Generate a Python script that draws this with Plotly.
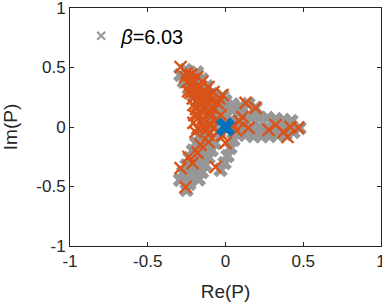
import plotly.graph_objects as go

# ---- data ----
tick_vals = [-1, -0.5, 0, 0.5, 1]
tick_text = ["-1", "-0.5", "0", "0.5", "1"]

legend_label = "<i>β</i>=6.03"

# gray series (dense band of points forming three arms)
gray_x = [
    # upper-left arm
    0.000, -0.032, -0.064, -0.096, -0.129, -0.161, -0.193, -0.225, -0.257,
    0.042, 0.010, -0.022, -0.054, -0.087, -0.119, -0.151, -0.183,
    -0.042, -0.075, -0.107, -0.139, -0.171, -0.203, -0.236, -0.268, -0.290,
    -0.019, 0.000, 0.045,
    # right arm
    0.064, 0.116, 0.167, 0.219, 0.270, 0.322, 0.373, 0.424, 0.476,
    0.116, 0.167, 0.219, 0.270, 0.322, 0.373, 0.424,
    0.077, 0.129, 0.180, 0.232, 0.283, 0.334, 0.386, 0.437,
    0.096, 0.148, 0.193, 0.084, 0.045,
    # lower-left arm, left finger
    -0.109, -0.130, -0.150, -0.172, -0.192, -0.213, -0.233, -0.251,
    -0.168, -0.189, -0.210, -0.231, -0.251, -0.272, -0.293,
    -0.068, -0.089, -0.109, -0.131, -0.151, -0.172,
    # lower-left arm, right finger
    0.051, 0.032, 0.013, -0.006, -0.032,
]
gray_y = [
    0.000, 0.059, 0.118, 0.176, 0.239, 0.303, 0.361, 0.420, 0.479,
    0.039, 0.097, 0.155, 0.214, 0.277, 0.341, 0.400, 0.459,
    -0.039, 0.020, 0.079, 0.138, 0.202, 0.264, 0.323, 0.382, 0.437,
    0.260, 0.220, 0.190,
    0.017, 0.008, 0.000, 0.000, 0.000, 0.000, 0.000, 0.000, -0.008,
    0.084, 0.076, 0.076, 0.076, 0.067, 0.059, 0.050,
    -0.059, -0.067, -0.076, -0.076, -0.076, -0.067, -0.059, -0.042,
    0.176, 0.193, 0.160, 0.118, 0.143,
    -0.109, -0.171, -0.233, -0.294, -0.355, -0.417, -0.479, -0.529,
    -0.076, -0.137, -0.199, -0.261, -0.322, -0.383, -0.445,
    -0.133, -0.194, -0.256, -0.318, -0.379, -0.440,
    -0.109, -0.176, -0.244, -0.303, -0.361,
]

orange_x = [
    -0.289, -0.244, -0.206, -0.161, -0.109, -0.225, -0.129, -0.077, -0.019,
    -0.206, -0.141, -0.084, -0.180, -0.096, -0.206, -0.141, -0.193, -0.109,
    -0.051, 0.000, 0.051, 0.129, 0.193, 0.109, 0.148, 0.277, 0.322, 0.373,
    0.418, 0.469, 0.399, -0.238, -0.180, -0.212, -0.289, -0.064, -0.257,
    -0.109, -0.161,
    -0.20, -0.17, -0.12, -0.15, -0.10, -0.05, -0.06, -0.16, -0.22, -0.26,
    -0.18, -0.13, -0.03, -0.12, 0.07, 0.09, -0.02,
    -0.25, -0.21, -0.23, -0.19, -0.15, -0.21, -0.17, -0.13, -0.09, -0.11,
    -0.16, -0.19, -0.14, -0.10, -0.18, -0.07, -0.04, -0.24, -0.20, -0.08,
]
orange_y = [
    0.504, 0.378, 0.370, 0.336, 0.336, 0.286, 0.269, 0.294, 0.269,
    0.185, 0.168, 0.160, 0.101, 0.084, 0.034, 0.000, -0.042, -0.067,
    -0.042, -0.134, 0.017, 0.202, 0.160, 0.084, -0.008, -0.025, 0.017, -0.042,
    0.000, -0.008, -0.084, -0.252, -0.218, -0.303, -0.345, -0.336, -0.504,
    -0.126, -0.151,
    0.30, 0.25, 0.22, 0.13, 0.12, 0.20, 0.06, 0.05, 0.44, 0.42,
    0.42, 0.30, 0.10, -0.02, -0.03, 0.05, -0.07,
    0.45, 0.40, 0.35, 0.33, 0.38, 0.24, 0.20, 0.18, 0.22, 0.27,
    0.28, 0.15, 0.07, 0.03, -0.01, 0.15, 0.24, 0.30, 0.10, -0.01,
]

blue_x = [0.0]
blue_y = [0.0]

GRAY = "#979797"
ORANGE = "#D95319"
BLUE = "#0072BD"
AXC = "#262626"
FONT = "Liberation Sans, Arial, sans-serif"

fig = go.Figure()
fig.add_trace(go.Scatter(
    x=gray_x, y=gray_y, mode="markers", showlegend=False,
    marker=dict(symbol="x", size=13, color=GRAY, line=dict(width=0)),
))
# legend entry for the gray series (small x as in the reference)
fig.add_trace(go.Scatter(
    x=[None], y=[None], mode="markers", name=legend_label,
    marker=dict(symbol="x-thin", size=8, line=dict(width=2, color=GRAY)),
))
fig.add_trace(go.Scatter(
    x=orange_x, y=orange_y, mode="markers", showlegend=False,
    marker=dict(symbol="x-thin", size=12, color=ORANGE, line=dict(width=2.4, color=ORANGE)),
))
fig.add_trace(go.Scatter(
    x=blue_x, y=blue_y, mode="markers", showlegend=False,
    marker=dict(symbol="x", size=17, color=BLUE, line=dict(width=0)),
))

axis_common = dict(
    range=[-1, 1], tickvals=tick_vals, ticktext=tick_text,
    showgrid=False, zeroline=False, showline=True, linecolor=AXC, linewidth=1,
    mirror="ticks", ticks="inside", ticklen=4, tickcolor=AXC, tickwidth=1,
    tickfont=dict(family=FONT, size=17, color=AXC),
    ticklabeloverflow="allow", automargin=False,
    fixedrange=True,
)
fig.update_xaxes(**axis_common, title=dict(text="Re(P)", standoff=14,
                 font=dict(family=FONT, size=19, color=AXC)))
fig.update_yaxes(**axis_common, title=dict(text="Im(P)", standoff=14,
                 font=dict(family=FONT, size=19, color=AXC)))

fig.update_layout(
    width=382, height=304,
    margin=dict(l=70, r=1, t=8, b=58, autoexpand=False),
    plot_bgcolor="white", paper_bgcolor="white",
    showlegend=True,
    legend=dict(x=0.036, y=0.965, xanchor="left", yanchor="top",
                bgcolor="rgba(0,0,0,0)", borderwidth=0,
                font=dict(family=FONT, size=20, color="#000000")),
)

fig.write_html("out.html", config={"displayModeBar": False},
               post_script="document.body.style.margin='0';document.body.style.overflow='hidden';")
